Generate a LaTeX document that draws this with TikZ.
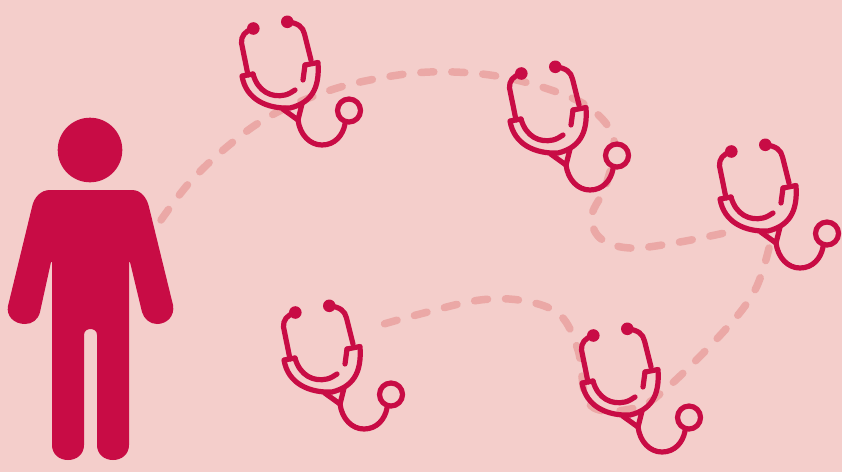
\documentclass[tikz,border=0pt]{standalone}
\definecolor{bgpink}{HTML}{F4CECB}
\definecolor{crim}{HTML}{C80C45}
\definecolor{dashpink}{HTML}{EBA8A6}
\tikzset{
  x=1pt,y=-1pt,
  route/.style={draw=dashpink,line width=7.5pt,line cap=round,dash pattern=on 13pt off 18pt},
  tube/.style={draw=crim,line width=5.2pt,line cap=round,line join=round},
  steth/.pic={
    \begin{scope}[shift={(-225,-5)}]
    % coordinates below are reference pixels of the first stethoscope
    \fill[crim] (253.3,28.5) circle (6.3);
    \fill[crim] (287.3,21.8) circle (6.3);
    \draw[tube] (253.3,28.5) .. controls (245,31) and (241,36) .. (241.5,43) -- (248,75);
    \draw[tube] (287.3,21.8) .. controls (298,23) and (303,27) .. (304.5,34) -- (311,60);
    \draw[tube] (305,65) -- (318,62.5) .. controls (320,90) and (310,103) .. (290,108)
       .. controls (268,109) and (246,100) .. (242,76) -- (253,74);
    \draw[tube] (253,74) .. controls (258,92) and (272,98) .. (285,95) .. controls (289,94) and (292,92) .. (295,90);
    \draw[tube] (305,65) -- (303,80);
    \draw[tube,line cap=butt] (282,108.5) -- (298,120) -- (302,104);
    \draw[tube] (298,120) .. controls (300,135) and (310,145) .. (322,145) .. controls (335,145) and (343,135) .. (345,124);
    \draw[tube,fill=bgpink] (349,110.5) circle (11.5);
    \end{scope}
  }
}
\begin{document}
\begin{tikzpicture}
\useasboundingbox (0,0) rectangle (842,472);
\fill[bgpink] (0,0) rectangle (842,472);
% named anchors
\coordinate (s1) at (225,5);
\coordinate (s2) at (493,50);
\coordinate (s3) at (703,128);
\coordinate (s4) at (267,289);
\coordinate (s5) at (565,312);
% dashed routes
\draw[route] plot[smooth,tension=0.6] coordinates {(161,220) (190,182) (228,146) (270,116) (325,92) (375,79) (430,72) (490,75) (545,88) (590,108) (614,140) (606,185) (592,215) (600,238) (630,248) (680,242) (738,230)};
\draw[route] plot[smooth,tension=0.6] coordinates {(769,248) (755,290) (725,330) (668,387) (635,408) (590,405) (578,350) (560,315) (525,301) (480,300) (420,314) (370,328)};
% person
\fill[crim] (90,150) circle (32.3);
\fill[crim] (50,190) -- (132,190) .. controls (141,190) and (147,198) .. (149,207)
  -- (173,305) .. controls (175,316) and (167,324) .. (157,324) .. controls (150,324) and (144,319) .. (142,312)
  -- (130,262) -- (129,262) -- (129,445) .. controls (129,454) and (122,460) .. (113,460) .. controls (104,460) and (97,454) .. (97,445)
  -- (97,335) .. controls (97,331) and (94,329) .. (90.5,329) .. controls (87,329) and (84,331) .. (84,335)
  -- (84,445) .. controls (84,454) and (77,460) .. (68,460) .. controls (59,460) and (52,454) .. (52,445)
  -- (52,262) -- (51,262) -- (40,312) .. controls (38,320) and (32,324) .. (25,324) .. controls (14,324) and (6,316) .. (8,306)
  -- (32,207) .. controls (34,197) and (41,190) .. (50,190) -- cycle;
% stethoscopes
\pic at (s1) {steth};
\pic at (s2) {steth};
\pic at (s3) {steth};
\pic at (s4) {steth};
\pic at (s5) {steth};
\end{tikzpicture}
\end{document}
